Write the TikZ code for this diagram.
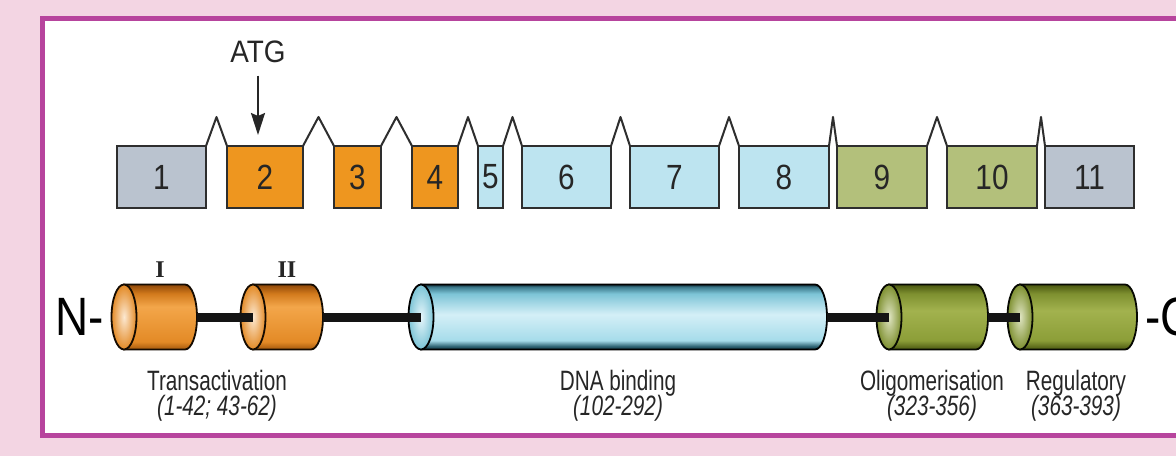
\documentclass[tikz,border=0pt]{standalone}
\usepackage{fontspec}
\setmainfont{Liberation Sans}
\newfontfamily\lblfont[FakeStretch=0.74]{Liberation Sans}
\newfontfamily\numfont[FakeStretch=0.85]{Liberation Sans}
\newfontfamily\atgfont[FakeStretch=0.9]{Liberation Sans}
\newfontfamily\romfont{Liberation Serif}
\usetikzlibrary{arrows.meta,calc}
\newcommand{\tightlines}{\setlength{\lineskiplimit}{-100pt}}

\definecolor{bgpink}{HTML}{F3D5E3}
\definecolor{framepurple}{HTML}{B7449D}
\definecolor{exgrey}{HTML}{BAC3CF}
\definecolor{exorange}{HTML}{EE961F}
\definecolor{exblue}{HTML}{BDE4F0}
\definecolor{exgreen}{HTML}{B3C07B}
\definecolor{exline}{HTML}{2E2E2E}
% orange cylinder
\definecolor{oA}{HTML}{8E4708}
\definecolor{oB}{HTML}{D27A1C}
\definecolor{oC}{HTML}{F3A64A}
\definecolor{oD}{HTML}{E38A26}
\definecolor{oE}{HTML}{A4580C}
% blue cylinder
\definecolor{bA}{HTML}{12323E}
\definecolor{bB}{HTML}{7CC4D6}
\definecolor{bC}{HTML}{D4EFF7}
\definecolor{bD}{HTML}{A6DCEA}
\definecolor{bE}{HTML}{2F6474}
\definecolor{bF}{HTML}{3D7A8C}
% green cylinder
\definecolor{gA}{HTML}{4A5710}
\definecolor{gB}{HTML}{7E9030}
\definecolor{gC}{HTML}{A2B24E}
\definecolor{gD}{HTML}{8C9E38}

\pgfdeclareverticalshading{orangecyl}{100bp}{color(0bp)=(oE); color(25bp)=(oE); color(31bp)=(oD); color(58bp)=(oC); color(68bp)=(oB); color(75bp)=(oA); color(100bp)=(oA)}
\pgfdeclareverticalshading{bluecyl}{100bp}{color(0bp)=(bA); color(25bp)=(bA); color(27.5bp)=(bE); color(32bp)=(bD); color(52bp)=(bC); color(68bp)=(bB); color(73bp)=(bF); color(75bp)=(bA); color(100bp)=(bA)}
\pgfdeclareverticalshading{greencyl}{100bp}{color(0bp)=(gA); color(25bp)=(gA); color(32bp)=(gD); color(55bp)=(gC); color(68bp)=(gB); color(75bp)=(gA); color(100bp)=(gA)}

\tikzset{
  exon/.style={draw=exline, line width=2pt, minimum height=62pt, inner sep=0pt, outer sep=0pt,
    font=\numfont\fontsize{35}{35}\selectfont, text=black!85},
  caret/.style={draw=exline, line width=2pt, line join=round},
  linker/.style={line width=9pt, draw=black!92},
  orange body/.style={shade, shading=orangecyl, draw=black!85!oA, line width=1.8pt},
  orange face/.style={inner color=oC!25!white, outer color=oD, draw=black!85!oA, line width=1.8pt},
  blue body/.style={shade, shading=bluecyl, draw=black, line width=1.8pt},
  blue face/.style={inner color=bC!60!white, outer color=bB, draw=black, line width=1.8pt},
  green body/.style={shade, shading=greencyl, draw=black!90!gA, line width=1.8pt},
  green face/.style={inner color=gC!35!white, outer color=gB, draw=black!90!gA, line width=1.8pt},
  lbl/.style={anchor=north, align=center, inner sep=0pt, text=black!85,
    font=\lblfont\fontsize{28}{25}\selectfont\tightlines},
  term/.style={inner sep=0pt, text=black, font=\numfont\fontsize{54}{54}\selectfont},
  roman/.style={inner sep=0pt, text=black!85, font=\romfont\bfseries\fontsize{24}{24}\selectfont},
  atglabel/.style={inner sep=0pt, anchor=base, text=black!85, font=\atgfont\fontsize{31}{31}\selectfont},
  atgarrow/.style={line width=2pt, draw=black!85, -{Stealth[length=22pt,width=14pt,inset=3pt]}, shorten <=12pt},
  frame/.style={draw=framepurple, line width=5pt, fill=white}
}

\newcommand{\pdomain}[4]{% name, left-face centre x, right end x, colour key
  \coordinate (#1L) at (#2,139);
  \coordinate (#1R) at (#3,139);
  \path[#4 body] (#2,171.5) -- ({#3-12},171.5) arc[start angle=90,end angle=-90,x radius=12,y radius=32.5] -- (#2,106.5) -- cycle;
  \path[#4 face] (#1L) ellipse[x radius=12.5,y radius=32.5];
}

\begin{document}
\begin{tikzpicture}[x=1pt,y=1pt]
  \useasboundingbox (0,0) rectangle (1176,456);
  \clip (0,0) rectangle (1176,456);
  \fill[bgpink] (0,0) rectangle (1176,456);
  \draw[frame] (42.5,437.5) rectangle (1230,20.5);

  % ---- exons ----
  \node[exon, fill=exgrey,   minimum width=89pt] (e1)  at (161.5,279) {1};
  \node[exon, fill=exorange, minimum width=76pt] (e2)  at (265,279)   {2};
  \node[exon, fill=exorange, minimum width=47pt] (e3)  at (357.5,279) {3};
  \node[exon, fill=exorange, minimum width=46pt] (e4)  at (435,279)   {4};
  \node[exon, fill=exblue,   minimum width=25pt] (e5)  at (490.5,279) {5};
  \node[exon, fill=exblue,   minimum width=89pt] (e6)  at (566.5,279) {6};
  \node[exon, fill=exblue,   minimum width=89pt] (e7)  at (674.5,279) {7};
  \node[exon, fill=exblue,   minimum width=90pt] (e8)  at (784,279)   {8};
  \node[exon, fill=exgreen,  minimum width=90pt] (e9)  at (882,279)   {9};
  \node[exon, fill=exgreen,  minimum width=90pt] (e10) at (992,279)   {10};
  \node[exon, fill=exgrey,   minimum width=89pt] (e11) at (1089.5,279) {11};

  \foreach \a/\b in {e1/e2,e2/e3,e3/e4,e4/e5,e5/e6,e6/e7,e7/e8,e8/e9,e9/e10,e10/e11}
    \draw[caret] (\a.north east) -- ($(\a.north east)!.5!(\b.north west)+(0,29)$) -- (\b.north west);

  \node[atglabel] (atg) at (258,393) {ATG};
  \coordinate (atgtip) at (258,321);
  \draw[atgarrow] (atg) -- (atgtip);

  % ---- protein domains ----
  \pdomain{dI}{124}{197}{orange}
  \pdomain{dII}{253}{323}{orange}
  \pdomain{dDNA}{421}{827}{blue}
  \pdomain{dOL}{889}{988}{green}
  \pdomain{dREG}{1020}{1137}{green}

  \draw[linker] (dIR) -- (dIIL);
  \draw[linker] (dIIR) -- (dDNAL);
  \draw[linker] (dDNAR) -- (dOLL);
  \draw[linker] (dOLR) -- (dREGL);

  \node[term, anchor=east] (nterm) at (104,139) {N-};
  \node[term, anchor=west] (cterm) at (1145,139) {-C};

  \node[roman] (rI)  at (160,186) {I};
  \node[roman] (rII) at (287,186) {II};

  \node[lbl] (ltrans) at (217,86)  {Transactivation\\\textit{(1-42; 43-62)}};
  \node[lbl] (ldna)   at (618,86)  {DNA binding\\\textit{(102-292)}};
  \node[lbl] (lolig)  at (932,86)  {Oligomerisation\\\textit{(323-356)}};
  \node[lbl] (lreg)   at (1076,86) {Regulatory\\\textit{(363-393)}};
\end{tikzpicture}
\end{document}
